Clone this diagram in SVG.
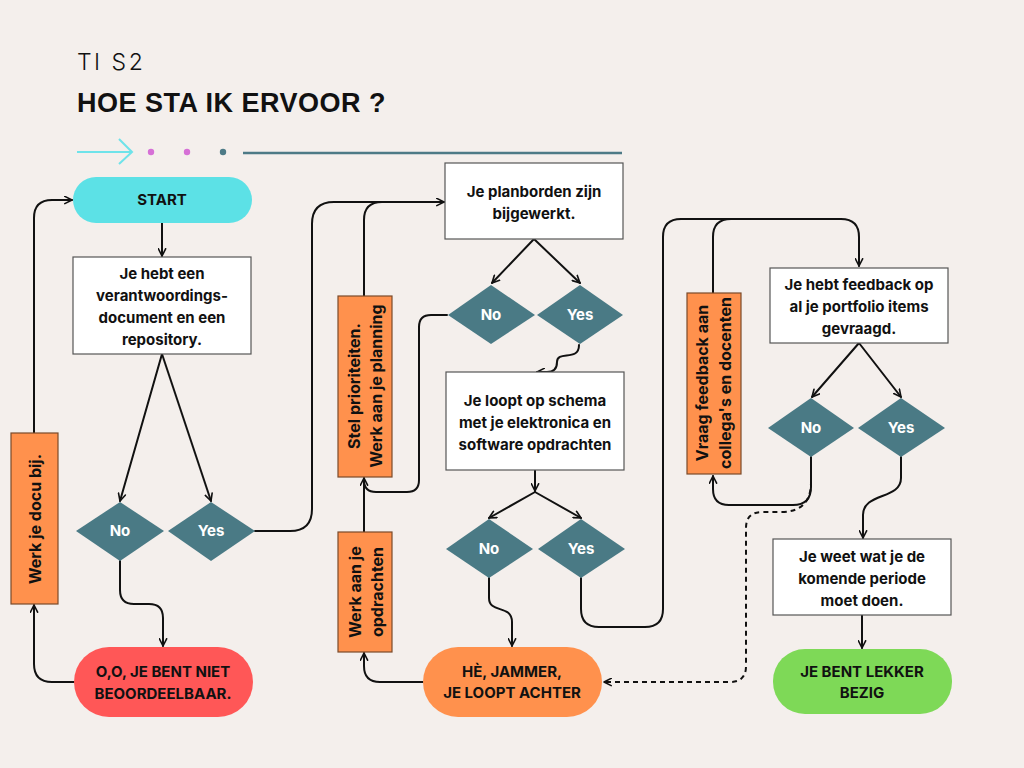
<svg xmlns="http://www.w3.org/2000/svg" width="1024" height="768" viewBox="0 0 1024 768">
<defs>
<style>
.t{font-family:Inter,"Liberation Sans",sans-serif;font-weight:700;font-size:15px;fill:#111;text-anchor:middle}
.w{fill:#fff}
.r{font-size:16px}
.box{fill:#fff;stroke:#555;stroke-width:1.2}
.org{fill:#ff914d;stroke:#7a4a2a;stroke-width:1.2}
.dia{fill:#4a7a85}
.c{fill:none;stroke:#111;stroke-width:2;stroke-linecap:round;stroke-linejoin:round}
.d{stroke-dasharray:5 4;stroke-linecap:butt}
</style>
<marker id="a" viewBox="0 0 10 10" refX="9" refY="5" markerWidth="9" markerHeight="9" markerUnits="userSpaceOnUse" orient="auto">
<path d="M1,1 L9,5 L1,9" fill="none" stroke="#111" stroke-width="1.8" stroke-linecap="round" stroke-linejoin="round"/>
</marker>
</defs>
<rect width="1024" height="768" fill="#f4efec"/>

<g id="header">
<text x="77" y="70" font-family="Inter,'Liberation Sans',sans-serif" font-weight="300" font-size="23" letter-spacing="2.5" fill="#111">TI S2</text>
<text x="77" y="112" font-family="'Liberation Sans',Arial,sans-serif" font-weight="700" font-size="27" letter-spacing="0.5" fill="#111">HOE STA IK ERVOOR ?</text>
<path d="M77,152 H132 M119,139 L132,152 L119,164" fill="none" stroke="#6ee3ea" stroke-width="2"/>
<circle cx="151" cy="152" r="3.2" fill="#d670d6"/>
<circle cx="187" cy="152" r="3.2" fill="#d670d6"/>
<circle cx="223" cy="152" r="3.2" fill="#4d7a86"/>
<line x1="243" y1="153" x2="622" y2="153" stroke="#4d7a86" stroke-width="2.5"/>
</g>

<g id="connectors">
<path class="c" marker-end="url(#a)" d="M162,223 V256"/>
<path class="c" marker-end="url(#a)" d="M162,354 L120,501"/>
<path class="c" marker-end="url(#a)" d="M162,354 L211,501"/>
<path class="c" marker-end="url(#a)" d="M120,561 V590 Q120,604 134,604 H149 Q163,604 163,618 V646"/>
<path class="c" marker-end="url(#a)" d="M74,682 H52 Q34,682 34,664 V605"/>
<path class="c" marker-end="url(#a)" d="M34,433 V218 Q34,200 52,200 H72"/>
<path class="c" marker-end="url(#a)" d="M255,531 H290 Q312,531 312,509 V224 Q312,202 334,202 H444"/>
<path class="c" d="M364,296 V220 Q364,202 382,202 H400"/>
<path class="c" marker-end="url(#a)" d="M534,239 L492,283"/>
<path class="c" marker-end="url(#a)" d="M534,239 L580,283"/>
<path class="c" marker-end="url(#a)" d="M447,315 H431 Q419,315 419,327 V480 Q419,492 407,492 H376 Q364,492 364,480 V478"/>
<path class="c" d="M364,532 V482"/>
<path class="c" marker-end="url(#a)" d="M579,345 C579,362 557,350 557,362 Q557,372 547,372 H537"/>
<path class="c" marker-end="url(#a)" d="M535,470 V491"/>
<path class="c" marker-end="url(#a)" d="M535,492 L489,518"/>
<path class="c" marker-end="url(#a)" d="M535,492 L581,518"/>
<path class="c" marker-end="url(#a)" d="M489,578 V598 C489,614 512,604 512,622 V646"/>
<path class="c" marker-end="url(#a)" d="M423,682 H380 Q364,682 364,666 V653"/>
<path class="c" marker-end="url(#a)" d="M581,578 V609 Q581,627 599,627 H645 Q663,627 663,609 V237 Q663,219 681,219 H841 Q859,219 859,237 V266"/>
<path class="c" d="M713,293 V237 Q713,219 731,219 H750"/>
<path class="c" marker-end="url(#a)" d="M859,343 L812,397"/>
<path class="c" marker-end="url(#a)" d="M859,343 L901,397"/>
<path class="c" marker-end="url(#a)" d="M811,457 V487 Q811,505 793,505 H729 Q713,505 713,489 V476"/>
<path class="c d" marker-end="url(#a)" d="M811,462 V482 Q811,512 781,512 H762 Q746,512 746,528 V666 Q746,682 730,682 H604"/>
<path class="c" marker-end="url(#a)" d="M901,457 V478 C901,500 863,492 863,515 V538"/>
<path class="c" marker-end="url(#a)" d="M862,615 V648"/>
</g>

<g id="start">
<rect x="73" y="177" width="179" height="46" rx="23" fill="#5ce1e6"/>
<text class="t" x="162" y="205">START</text>
</g>

<g id="box-document">
<rect class="box" x="73" y="257" width="178" height="97"/>
<text class="t"><tspan x="162" y="279">Je hebt een</tspan><tspan x="162" y="301">verantwoordings-</tspan><tspan x="162" y="323">document en een</tspan><tspan x="162" y="345">repository.</tspan></text>
</g>

<g id="dia-no-1">
<polygon class="dia" points="76,531 120,502 164,531 120,561"/>
<text class="t w" x="120" y="536">No</text>
</g>
<g id="dia-yes-1">
<polygon class="dia" points="168,531 211,502 255,531 211,561"/>
<text class="t w" x="211" y="536">Yes</text>
</g>

<g id="werk-docu">
<rect class="org" x="11" y="433" width="47" height="171"/>
<text class="t r" transform="translate(35,519) rotate(-90)" x="0" y="5.5">Werk je docu bij.</text>
</g>

<g id="niet-beoordeelbaar">
<rect x="74" y="647" width="179" height="70" rx="35" fill="#ff5757"/>
<text class="t"><tspan x="163" y="677">O,O, JE BENT NIET</tspan><tspan x="163" y="699">BEOORDEELBAAR.</tspan></text>
</g>

<g id="box-planborden">
<rect class="box" x="445" y="163" width="178" height="76"/>
<text class="t"><tspan x="534" y="197">Je planborden zijn</tspan><tspan x="534" y="219">bijgewerkt.</tspan></text>
</g>

<g id="dia-no-2">
<polygon class="dia" points="448,315 491,285 535,315 491,344"/>
<text class="t w" x="491" y="320">No</text>
</g>
<g id="dia-yes-2">
<polygon class="dia" points="537,315 580,285 623,315 580,344"/>
<text class="t w" x="580" y="320">Yes</text>
</g>

<g id="stel-prioriteiten">
<rect class="org" x="338" y="296" width="54" height="181"/>
<text class="t r" transform="translate(365,386) rotate(-90)"><tspan x="0" y="-5.5">Stel prioriteiten.</tspan><tspan x="0" y="16.5">Werk aan je planning</tspan></text>
</g>

<g id="box-schema">
<rect class="box" x="446" y="372" width="178" height="98"/>
<text class="t"><tspan x="535" y="406">Je loopt op schema</tspan><tspan x="535" y="428">met je elektronica en</tspan><tspan x="535" y="450">software opdrachten</tspan></text>
</g>

<g id="dia-no-3">
<polygon class="dia" points="446,549 489,519 533,549 489,578"/>
<text class="t w" x="489" y="554">No</text>
</g>
<g id="dia-yes-3">
<polygon class="dia" points="538,549 581,519 625,549 581,578"/>
<text class="t w" x="581" y="554">Yes</text>
</g>

<g id="werk-opdrachten">
<rect class="org" x="338" y="532" width="54" height="120"/>
<text class="t r" transform="translate(366,592) rotate(-90)"><tspan x="0" y="-5.5">Werk aan je</tspan><tspan x="0" y="17">opdrachten</tspan></text>
</g>

<g id="jammer">
<rect x="423" y="647" width="179" height="70" rx="35" fill="#ff914d"/>
<text class="t"><tspan x="512" y="677">HÈ, JAMMER,</tspan><tspan x="512" y="698">JE LOOPT ACHTER</tspan></text>
</g>

<g id="box-feedback">
<rect class="box" x="770" y="268" width="178" height="75"/>
<text class="t"><tspan x="859" y="290">Je hebt feedback op</tspan><tspan x="859" y="312">al je portfolio items</tspan><tspan x="859" y="334">gevraagd.</tspan></text>
</g>

<g id="vraag-feedback">
<rect class="org" x="687" y="293" width="54" height="181"/>
<text class="t r" transform="translate(714,383) rotate(-90)"><tspan x="0" y="-6">Vraag feedback aan</tspan><tspan x="0" y="17">collega's en docenten</tspan></text>
</g>

<g id="dia-no-4">
<polygon class="dia" points="768,428 811,398 854,428 811,457"/>
<text class="t w" x="811" y="433">No</text>
</g>
<g id="dia-yes-4">
<polygon class="dia" points="858,428 901,398 945,428 901,457"/>
<text class="t w" x="901" y="433">Yes</text>
</g>

<g id="box-weet">
<rect class="box" x="773" y="539" width="178" height="76"/>
<text class="t"><tspan x="862" y="562">Je weet wat je de</tspan><tspan x="862" y="584">komende periode</tspan><tspan x="862" y="606">moet doen.</tspan></text>
</g>

<g id="lekker-bezig">
<rect x="773" y="649" width="179" height="65" rx="32" fill="#7ed957"/>
<text class="t"><tspan x="862" y="677">JE BENT LEKKER</tspan><tspan x="862" y="698">BEZIG</tspan></text>
</g>
</svg>
